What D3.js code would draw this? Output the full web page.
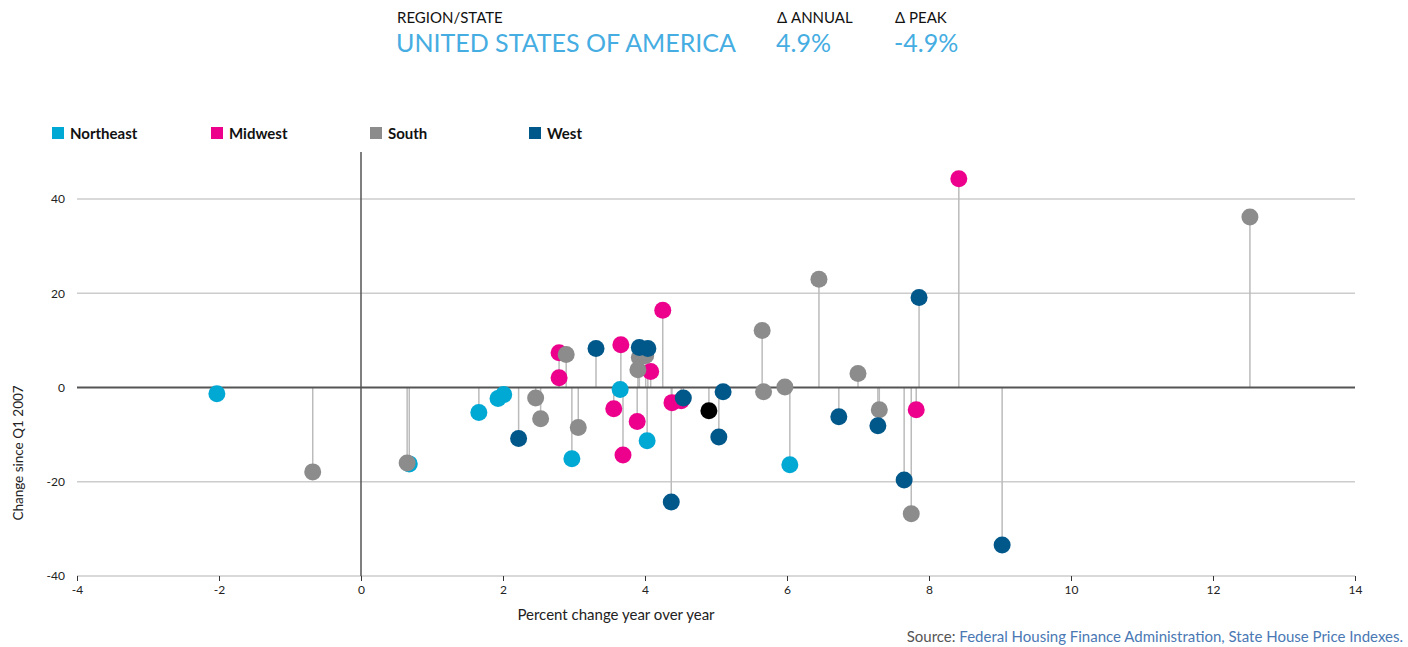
<!DOCTYPE html>
<html>
<head>
<meta charset="utf-8">
<script src="https://cdn.jsdelivr.net/npm/d3@7"></script>
<style>
  body { margin: 0; background: #fff; font-family: Lato, "Open Sans", sans-serif; }
  svg text { font-family: Lato, "Open Sans", sans-serif; }
</style>
</head>
<body>
<svg id="chart" width="1408" height="647"></svg>
<script>
// regions and their colours
const regions = ['Northeast', 'Midwest', 'South', 'West']
const regionColors = ['#00a8d4', '#ec008c', '#8c8c8c', '#00578a']

// [annual % change, change since Q1 2007] per state
const northeast = [[-2.03, -1.3], [0.68, -16.2], [1.66, -5.3], [1.93, -2.3], [2.01, -1.5],
  [2.97, -15.1], [3.65, -0.4], [4.03, -11.3], [6.04, -16.4]]
const midwest = [[2.79, 7.4], [2.79, 2.1], [3.66, 9.1], [4.25, 16.4], [4.08, 3.4], [3.56, -4.5],
  [3.89, -7.2], [3.69, -14.3], [4.38, -3.2], [4.51, -2.8], [8.42, 44.3], [7.82, -4.7]]
const south = [[-0.68, -17.9], [0.65, -16.0], [2.89, 7.0], [2.46, -2.2], [2.53, -6.6], [3.06, -8.5],
  [3.92, 6.4], [4.01, 6.8], [3.9, 3.8], [6.45, 23.0], [5.65, 12.1], [5.67, -0.9], [5.97, 0.1],
  [7.0, 3.0], [7.3, -4.7], [7.75, -26.8], [12.52, 36.2]]
const west = [[3.31, 8.3], [3.92, 8.5], [4.04, 8.3], [2.22, -10.8], [4.54, -2.2], [5.1, -0.9],
  [5.04, -10.5], [4.37, -24.3], [7.86, 19.1], [6.73, -6.2], [7.28, -8.1], [7.65, -19.6], [9.03, -33.4]]
const usa = [4.9, -4.9]

const xTicks = [-4, -2, 0, 2, 4, 6, 8, 10, 12, 14]
const yTicks = [-40, -20, 0, 20, 40]

const svg = d3.select('#chart')
const x = d3.scaleLinear().domain([-4, 14]).range([77, 1355])
const y = d3.scaleLinear().domain([-40, 50]).range([576, 152])

// header
const head = svg.append('g')
head.append('text').attr('x', 397).attr('y', 23).attr('font-size', 15).attr('fill', '#111').text('REGION/STATE')
head.append('text').attr('x', 396).attr('y', 52).attr('font-size', 25).attr('fill', '#45ade2').text('UNITED STATES OF AMERICA')
head.append('text').attr('x', 777).attr('y', 23).attr('font-size', 15).attr('fill', '#111').text('Δ ANNUAL')
head.append('text').attr('x', 776).attr('y', 52).attr('font-size', 25).attr('fill', '#45ade2').text(usa[0] + '%')
head.append('text').attr('x', 895).attr('y', 23).attr('font-size', 15).attr('fill', '#111').text('Δ PEAK')
head.append('text').attr('x', 894).attr('y', 52).attr('font-size', 25).attr('fill', '#45ade2').text(usa[1] + '%')

// legend
const legend = svg.append('g').selectAll('g').data(regions).join('g')
  .attr('transform', (d, i) => `translate(${52 + i * 159},127)`)
legend.append('rect').attr('width', 12).attr('height', 12).attr('fill', (d, i) => regionColors[i])
legend.append('text').attr('x', 18).attr('y', 12).attr('font-size', 15).attr('font-weight', 'bold')
  .attr('fill', '#111').text(d => d)

// grid lines
svg.append('g').selectAll('line').data(yTicks.filter(d => d !== 0)).join('line')
  .attr('x1', x(-4)).attr('x2', x(14)).attr('y1', d => y(d)).attr('y2', d => y(d))
  .attr('stroke', '#cccccc').attr('stroke-width', 1.5)

// x axis
const xAxis = svg.append('g').attr('transform', `translate(0,${y(-40)})`)
  .call(d3.axisBottom(x).tickValues(xTicks).tickSize(5).tickPadding(4).tickFormat(d => String(d)))
xAxis.select('.domain').remove()
xAxis.selectAll('line').attr('stroke', '#333')
xAxis.selectAll('text').attr('font-size', 12).attr('fill', '#222')

// y axis
const yAxis = svg.append('g').attr('transform', `translate(${x(-4) - 10},0)`)
  .call(d3.axisLeft(y).tickValues(yTicks).tickSize(0).tickPadding(2).tickFormat(d => String(d)))
yAxis.select('.domain').remove()
yAxis.selectAll('text').attr('font-size', 12).attr('fill', '#222')

// axis titles
svg.append('text').attr('transform', 'translate(23,453) rotate(-90)').attr('text-anchor', 'middle')
  .attr('font-size', 13.5).attr('fill', '#222').text('Change since Q1 2007')
svg.append('text').attr('x', 616).attr('y', 620).attr('text-anchor', 'middle')
  .attr('font-size', 15).attr('fill', '#222').text('Percent change year over year')

// data points
const groups = [northeast, midwest, south, west]
const points = []
groups.forEach((g, i) => g.forEach(d => points.push({ x: d[0], y: d[1], color: regionColors[i] })))
points.push({ x: usa[0], y: usa[1], color: '#000000' })

// stems
svg.append('g').selectAll('line').data(points).join('line')
  .attr('x1', d => x(d.x)).attr('x2', d => x(d.x))
  .attr('y1', y(0)).attr('y2', d => y(d.y))
  .attr('stroke', '#bbbbbb').attr('stroke-width', 1.5)

// zero lines
svg.append('line').attr('x1', x(-4)).attr('x2', x(14)).attr('y1', y(0)).attr('y2', y(0))
  .attr('stroke', '#555').attr('stroke-width', 2)
svg.append('line').attr('x1', x(0)).attr('x2', x(0)).attr('y1', y(50)).attr('y2', y(-40))
  .attr('stroke', '#555').attr('stroke-width', 1.5)

// dots
svg.append('g').selectAll('circle').data(points).join('circle')
  .attr('cx', d => x(d.x)).attr('cy', d => y(d.y)).attr('r', 8.5)
  .attr('fill', d => d.color)

// source
const src = svg.append('text').attr('x', 1403).attr('y', 642).attr('text-anchor', 'end').attr('font-size', 15)
src.append('tspan').attr('fill', '#555').text('Source: ')
src.append('tspan').attr('fill', '#4a78b4').text('Federal Housing Finance Administration, State House Price Indexes.')
</script>
</body>
</html>
